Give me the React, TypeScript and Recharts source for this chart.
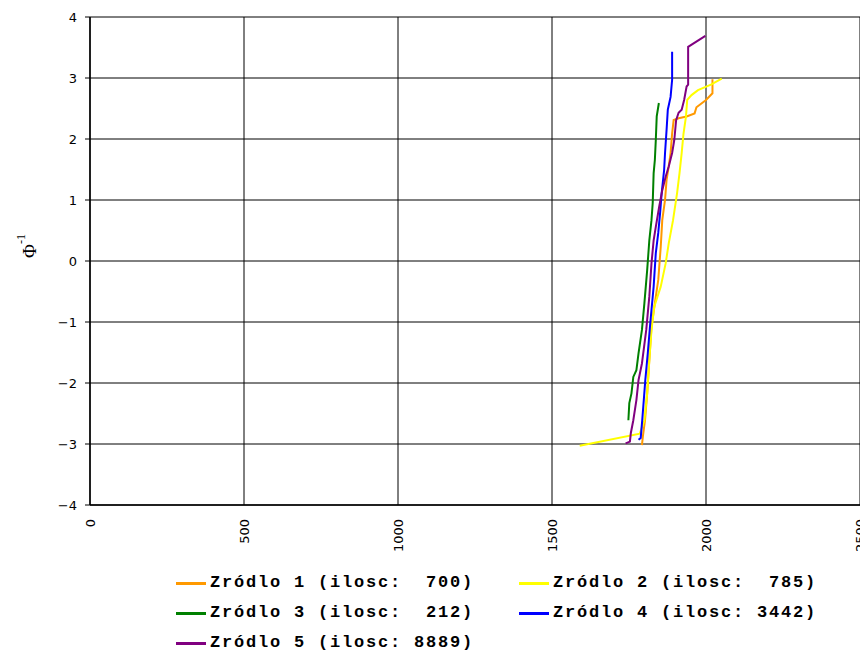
import React from 'react';
import { LineChart, Line, XAxis, YAxis, CartesianGrid, Legend, Label } from 'recharts';

// Quantile plot: sample values (x) against the inverse normal CDF (y)
const xTicks = [0, 500, 1000, 1500, 2000, 2500];
const yTicks = [-4, -3, -2, -1, 0, 1, 2, 3, 4];

const src1Y = [-3.02, -2.88, -2.61, -2.17, -1.62, -1.08, -0.69, -0.31, 0.23, 0.67, 1.0, 1.33, 1.55, 1.77, 2.09, 2.31, 2.34, 2.37, 2.42, 2.52, 2.64, 2.75, 2.98];
const src1X = [1792, 1795, 1802, 1809, 1816, 1823, 1834, 1845, 1853, 1858, 1867, 1872, 1879, 1885, 1890, 1895, 1911, 1937, 1963, 1969, 2000, 2021, 2021];

const src2Y = [-3.03, -2.83, -2.61, -2.17, -1.62, -1.13, -0.75, -0.42, -0.04, 0.29, 0.67, 1.11, 1.44, 1.77, 2.09, 2.37, 2.64, 2.72, 2.8, 2.89, 2.99];
const src2X = [1590, 1785, 1800, 1809, 1816, 1823, 1832, 1853, 1869, 1879, 1893, 1906, 1914, 1921, 1927, 1935, 1939, 1953, 1974, 2016, 2051];

const src3Y = [-2.61, -2.33, -2.17, -1.9, -1.79, -1.51, -1.13, -0.69, -0.15, 0.34, 0.67, 0.95, 1.44, 1.66, 1.98, 2.37, 2.59];
const src3X = [1748, 1751, 1758, 1764, 1774, 1781, 1792, 1800, 1809, 1816, 1823, 1827, 1830, 1834, 1837, 1840, 1847];

const src4Y = [-2.93, -2.9, -2.61, -2.28, -1.95, -1.51, -1.02, -0.42, 0.13, 0.46, 0.79, 1.11, 1.49, 1.77, 2.15, 2.48, 2.69, 2.97, 3.43];
const src4X = [1781, 1788, 1793, 1798, 1803, 1811, 1819, 1830, 1837, 1845, 1851, 1856, 1864, 1867, 1872, 1876, 1885, 1890, 1890];

const src5Y = [-2.99, -2.96, -2.82, -2.61, -2.28, -1.95, -1.68, -1.13, -0.58, -0.04, 0.34, 0.56, 0.89, 1.16, 1.38, 1.55, 1.77, 1.98, 2.31, 2.43, 2.48, 2.64, 2.86, 2.89, 3.51, 3.69];
const src5X = [1739, 1753, 1756, 1764, 1774, 1781, 1792, 1806, 1816, 1823, 1830, 1837, 1848, 1858, 1869, 1879, 1890, 1897, 1903, 1911, 1921, 1929, 1937, 1942, 1942, 1998];

const seriesNames = [
    'Zródlo 1 (ilosc:  700)',
    'Zródlo 2 (ilosc:  785)',
    'Zródlo 3 (ilosc:  212)',
    'Zródlo 4 (ilosc: 3442)',
    'Zródlo 5 (ilosc: 8889)',
];
const seriesColors = ['#FF9900', '#FFFF00', '#008000', '#0000FF', '#800080'];

const zip = (xs: number[], ys: number[]) => xs.map((x, i) => ({ x, y: ys[i] }));

const series = [
    zip(src1X, src1Y),
    zip(src2X, src2Y),
    zip(src3X, src3Y),
    zip(src4X, src4Y),
    zip(src5X, src5Y),
];

const tickFont = { fontFamily: 'DejaVu Sans', fontSize: 13, fill: '#000' };

const XTick = (props: any) => {
    const { x, y, payload } = props;
    const ty = y + 14;
    return (
        <text
            x={x}
            y={ty}
            transform={`rotate(-90 ${x} ${ty})`}
            textAnchor="end"
            dominantBaseline="central"
            {...tickFont}
        >
            {payload.value}
        </text>
    );
};

const YTitle = (props: any) => {
    const { viewBox } = props;
    const cx = 21;
    const cy = viewBox.y + viewBox.height / 2 - 15;
    return (
        <text
            x={cx}
            y={cy}
            transform={`rotate(-90 ${cx} ${cy})`}
            textAnchor="middle"
            dominantBaseline="central"
            fontFamily="Liberation Serif"
            fontSize={19}
            fill="#000"
        >
            Φ
            <tspan fontSize={12} dy={-8}>-1</tspan>
        </text>
    );
};

const LegendBox = () => (
    <div
        style={{
            display: 'grid',
            gridTemplateColumns: '343px 343px',
            paddingLeft: 168,
            paddingTop: 2,
            height: 87,
            boxSizing: 'border-box',
            fontFamily: 'Liberation Mono',
            fontWeight: 'bold',
            fontSize: 17,
            letterSpacing: 1.8,
            lineHeight: '30px',
            whiteSpace: 'pre',
            color: '#000',
        }}
    >
        {seriesNames.map((name, i) => (
            <div key={name} style={{ display: 'flex', alignItems: 'center' }}>
                <span
                    style={{
                        display: 'inline-block',
                        width: 30,
                        height: 3,
                        background: seriesColors[i],
                        marginRight: 4,
                    }}
                />
                <span>{name}</span>
            </div>
        ))}
    </div>
);

export default function App() {
    return (
        <div style={{ fontFamily: 'DejaVu Sans' }}>
            <LineChart width={860} height={645} margin={{ top: 9, right: 8, left: 0, bottom: 0 }}>
                <CartesianGrid stroke="#000" strokeWidth={1} />
                <XAxis
                    type="number"
                    dataKey="x"
                    domain={[0, 2500]}
                    ticks={xTicks}
                    interval={0}
                    tickLine={false}
                    tickSize={0}
                    tickMargin={0}
                    height={61}
                    axisLine={{ stroke: '#000', strokeWidth: 1.5 }}
                    tick={<XTick />}
                />
                <YAxis
                    type="number"
                    domain={[-4, 4]}
                    ticks={yTicks}
                    interval={0}
                    width={82}
                    tickSize={5}
                    tickMargin={8}
                    tickLine={{ stroke: '#000' }}
                    axisLine={{ stroke: '#000', strokeWidth: 1.5 }}
                    tick={tickFont}
                    tickFormatter={(v: number) => String(v).replace('-', '\u2212')}
                >
                    <Label content={<YTitle />} />
                </YAxis>
                {series.map((d, i) => (
                    <Line
                        key={seriesNames[i]}
                        data={d}
                        dataKey="y"
                        name={seriesNames[i]}
                        type="linear"
                        stroke={seriesColors[i]}
                        strokeWidth={2}
                        dot={false}
                        activeDot={false}
                        isAnimationActive={false}
                    />
                ))}
                <Legend
                    verticalAlign="bottom"
                    height={87}
                    wrapperStyle={{ left: 0, width: 860 }}
                    content={<LegendBox />}
                />
            </LineChart>
        </div>
    );
}
